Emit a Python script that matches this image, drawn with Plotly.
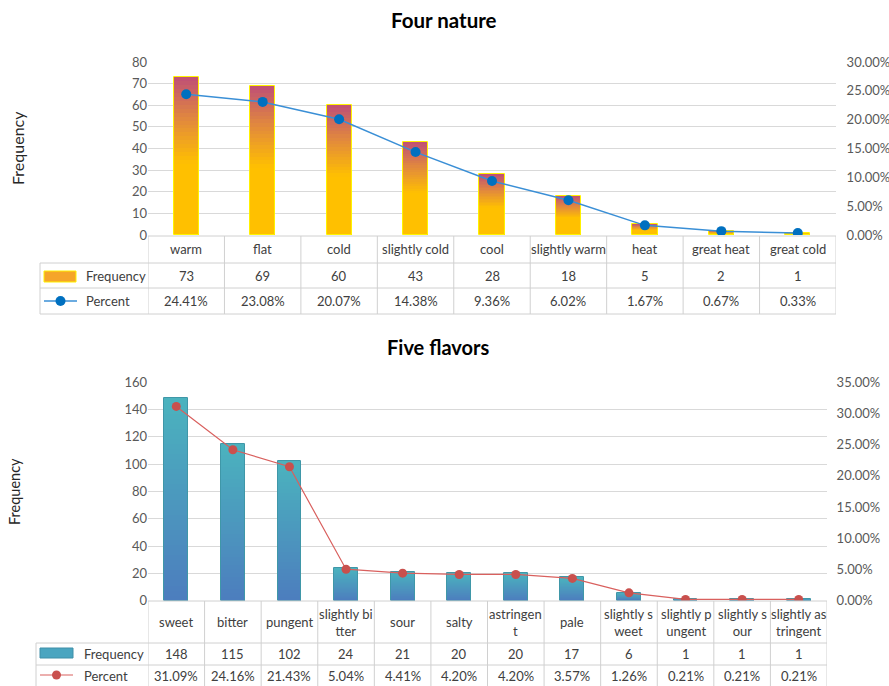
import plotly.graph_objects as go

# ---------------- data ----------------
nature_categories = ["warm", "flat", "cold", "slightly cold", "cool",
                     "slightly warm", "heat", "great heat", "great cold"]
nature_labels = ["warm", "flat", "cold", "slightly cold", "cool",
                 "slightly warm", "heat", "great heat", "great cold"]
nature_frequency = [73, 69, 60, 43, 28, 18, 5, 2, 1]
nature_percent = [24.41, 23.08, 20.07, 14.38, 9.36, 6.02, 1.67, 0.67, 0.33]

flavor_categories = ["sweet", "bitter", "pungent", "slightly bitter", "sour",
                     "salty", "astringent", "pale", "slightly sweet",
                     "slightly pungent", "slightly sour", "slightly astringent"]
flavor_labels = ["sweet", "bitter", "pungent", "slightly bi<br>tter", "sour",
                 "salty", "astringen<br>t", "pale", "slightly s<br>weet",
                 "slightly p<br>ungent", "slightly s<br>our", "slightly as<br>tringent"]
flavor_frequency = [148, 115, 102, 24, 21, 20, 20, 17, 6, 1, 1, 1]
flavor_percent = [31.09, 24.16, 21.43, 5.04, 4.41, 4.20, 4.20, 3.57, 1.26, 0.21, 0.21, 0.21]

# ---------------- layout helpers ----------------
W, H = 889, 686
FONT = "Lato, Carlito, Calibri, sans-serif"
TXT = "#404040"
GRID = "#D9D9D9"
TABLE = "#D0D0D0"


def px(x):
    return x / W


def py(y):
    return 1 - y / H


def hex2rgb(h):
    h = h.lstrip("#")
    return tuple(int(h[i:i + 2], 16) for i in (0, 2, 4))


def grad(stops, t):
    stops = [(s, hex2rgb(c)) for s, c in stops]
    if t <= stops[0][0]:
        r = stops[0][1]
    elif t >= stops[-1][0]:
        r = stops[-1][1]
    else:
        for (s0, c0), (s1, c1) in zip(stops[:-1], stops[1:]):
            if s0 <= t <= s1:
                f = (t - s0) / (s1 - s0)
                r = tuple(c0[i] + (c1[i] - c0[i]) * f for i in range(3))
                break
    return "rgb(%d,%d,%d)" % tuple(round(v) for v in r)


nature_stops = [(0.0, "#FFC000"), (0.45, "#FFC000"), (0.72, "#E38C3A"), (1.0, "#BF4F76")]
flavor_stops = [(0.0, "#4C7DBE"), (1.0, "#4BB3BE")]

fig = go.Figure()
NSTEP = 40


def add_gradient_bars(cats, freq, width, stops, xa, ya, outline, name):
    for k in range(NSTEP):
        frac = 1 - k / NSTEP
        tmid = frac - 0.5 / NSTEP
        fig.add_trace(go.Bar(
            x=cats, y=[v * frac for v in freq], width=width,
            marker=dict(color=grad(stops, tmid), line=dict(width=0)),
            xaxis=xa, yaxis=ya, showlegend=False, hoverinfo="skip"))
    fig.add_trace(go.Bar(
        x=cats, y=freq, width=width, name=name,
        marker=dict(color="rgba(0,0,0,0)", line=dict(color=outline, width=1)),
        xaxis=xa, yaxis=ya, showlegend=False))


# ---- top chart ----
add_gradient_bars(nature_categories, nature_frequency, 0.33, nature_stops,
                  "x", "y", "#FFF200", "Frequency")
fig.add_trace(go.Scatter(
    x=nature_categories, y=[p / 100 for p in nature_percent], name="Percent",
    mode="lines+markers", line=dict(color="#3A8FD6", width=1.5),
    marker=dict(color="#0070C0", size=10), xaxis="x", yaxis="y2",
    showlegend=False))

# ---- bottom chart ----
add_gradient_bars(flavor_categories, flavor_frequency, 0.42, flavor_stops,
                  "x2", "y3", "#3F97A8", "Frequency")
fig.add_trace(go.Scatter(
    x=flavor_categories, y=[p / 100 for p in flavor_percent], name="Percent",
    mode="lines+markers", line=dict(color="#D9605E", width=1.2),
    marker=dict(color="#C9504D", size=9), xaxis="x2", yaxis="y4",
    showlegend=False))

tickfont = dict(family=FONT, size=13, color="#595959")

top_x = [px(148), px(836)]
bot_x = [px(148), px(827)]
top_y = [py(235), py(62)]
bot_y = [py(600.7), py(382)]

fig.update_layout(
    width=W, height=H, margin=dict(l=0, r=0, t=0, b=0, autoexpand=False),
    paper_bgcolor="white", plot_bgcolor="white",
    barmode="overlay", bargap=0, showlegend=False,
    font=dict(family=FONT, size=13, color=TXT),
    xaxis=dict(domain=top_x, anchor="y", type="category",
               categoryorder="array", categoryarray=nature_categories,
               range=[-0.5, len(nature_categories) - 0.5], automargin=False,
               showticklabels=False, showgrid=False, zeroline=False,
               showline=False, ticks=""),
    yaxis=dict(domain=top_y, anchor="x", range=[0, 80], dtick=10,
               gridcolor=GRID, zeroline=False, showline=False, automargin=False,
               tickfont=tickfont, ticks=""),
    yaxis2=dict(overlaying="y", side="right", anchor="x", range=[0, 0.30],
                dtick=0.05, tickformat=".2%", showgrid=False, zeroline=False,
                showline=False, tickfont=tickfont, automargin=False,
                ticks="outside", ticklen=7, tickcolor="rgba(0,0,0,0)"),
    xaxis2=dict(domain=bot_x, anchor="y3", type="category",
                categoryorder="array", categoryarray=flavor_categories,
                range=[-0.5, len(flavor_categories) - 0.5], automargin=False,
                showticklabels=False, showgrid=False, zeroline=False,
                showline=False, ticks=""),
    yaxis3=dict(domain=bot_y, anchor="x2", range=[0, 160], dtick=20,
                gridcolor=GRID, zeroline=False, showline=False, automargin=False,
                tickfont=tickfont, ticks=""),
    yaxis4=dict(overlaying="y3", side="right", anchor="x2", range=[0, 0.35],
                dtick=0.05, tickformat=".2%", showgrid=False, zeroline=False,
                showline=False, tickfont=tickfont, automargin=False,
                ticks="outside", ticklen=6, tickcolor="rgba(0,0,0,0)"),
)

shapes = []
annotations = []


def text(xref, x, y, s, size=13, color=TXT, xanchor="center", **kw):
    d = dict(xref=xref, yref="paper", x=x, y=y, text=s, showarrow=False,
             xanchor=xanchor, yanchor="middle",
             font=dict(family=FONT, size=size, color=color))
    d.update(kw)
    annotations.append(d)


def line(xref, x0, x1, yref, y0, y1, color=TABLE, width=1):
    shapes.append(dict(type="line", xref=xref, yref=yref, x0=x0, x1=x1,
                       y0=y0, y1=y1, line=dict(color=color, width=width)))


def build_table(xref, cats, labels, freq, pct, left_px, right_px,
                y_top, y_r1, y_r2, y_bot, c_head, c_freq, c_pct):
    n = len(cats)
    line(xref, -0.5, n - 0.5, "paper", py(y_top), py(y_top))
    for yy in (y_r1, y_r2, y_bot):
        line("paper", px(left_px), px(right_px), "paper", py(yy), py(yy))
    for i in range(n + 1):
        line(xref, i - 0.5, i - 0.5, "paper", py(y_top), py(y_bot))
    line("paper", px(left_px), px(left_px), "paper", py(y_r1), py(y_bot))
    for i, c in enumerate(cats):
        text(xref, i, py(c_head), labels[i])
        text(xref, i, py(c_freq), str(freq[i]))
        text(xref, i, py(c_pct), "%.2f%%" % pct[i])


build_table("x", nature_categories, nature_labels, nature_frequency,
            nature_percent, 40, 836, 236, 263, 288, 314, 249, 276, 301)
build_table("x2", flavor_categories, flavor_labels, flavor_frequency,
            flavor_percent, 36, 827, 601, 643, 665, 690, 622, 654, 676)

# legend keys in the tables
# top
shapes.append(dict(type="rect", xref="paper", yref="paper",
                   x0=px(44), x1=px(76), y0=py(282), y1=py(271),
                   fillcolor="#F5A52A", line=dict(color="#FFF200", width=1)))
line("paper", px(44), px(77), "paper", py(301), py(301), color="#3A8FD6", width=1.5)
shapes.append(dict(type="circle", xref="paper", yref="paper",
                   x0=px(55.5), x1=px(65.5), y0=py(306), y1=py(296),
                   fillcolor="#0070C0", line=dict(color="#0070C0", width=0)))
text("paper", px(84), py(276), "Frequency", xanchor="left")
text("paper", px(84), py(301), "Percent", xanchor="left")
# bottom
shapes.append(dict(type="rect", xref="paper", yref="paper",
                   x0=px(40), x1=px(73), y0=py(658), y1=py(648),
                   fillcolor="#4AA5C0", line=dict(color="#3F8FA8", width=1)))
line("paper", px(40), px(73), "paper", py(675), py(675), color="#D9605E", width=1.2)
shapes.append(dict(type="circle", xref="paper", yref="paper",
                   x0=px(52), x1=px(61), y0=py(679.5), y1=py(670.5),
                   fillcolor="#C9504D", line=dict(color="#C9504D", width=0)))
text("paper", px(82), py(654), "Frequency", xanchor="left")
text("paper", px(82), py(676), "Percent", xanchor="left")

# titles
text("paper", px(444), py(20), "<b>Four nature</b>", size=20.5, color="#000000")
text("paper", px(438), py(347), "<b>Five flavors</b>", size=20, color="#000000")
# axis titles
text("paper", px(18), py(148), "Frequency", size=16, color="#262626", textangle=-90)
text("paper", px(14), py(492), "Frequency", size=14.5, color="#262626", textangle=-90)

fig.update_layout(shapes=shapes, annotations=annotations)
fig.write_html(
    "out.html",
    config={"displayModeBar": False},
    post_script="document.body.style.margin='0px';document.body.style.padding='0px';",
)
